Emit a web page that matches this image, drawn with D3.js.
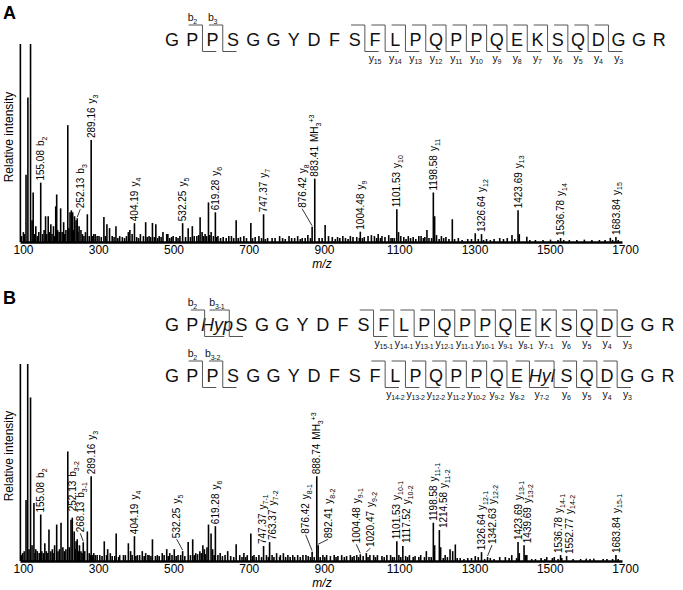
<!DOCTYPE html>
<html lang="en">
<head>
<meta charset="UTF-8">
<title>MS/MS spectra</title>
<script src="https://cdn.jsdelivr.net/npm/d3@7"></script>
<style>
  body { margin: 0; background: #fff; }
  svg { display: block; font-family: "Liberation Sans", Arial, sans-serif; }
</style>
</head>
<body>
<div id="chart"></div>
<script>
// ---- data ----
const xTicks = [100, 300, 500, 700, 900, 1100, 1300, 1500, 1700];

// sequences (panel A, panel B first and second row)
const seqA  = ["G","P","P","S","G","G","Y","D","F","S","F","L","P","Q","P","P","Q","E","K","S","Q","D","G","G","R"];
const seqB1 = ["G","P","Hyp","S","G","G","Y","D","F","S","F","L","P","Q","P","P","Q","E","K","S","Q","D","G","G","R"];
const seqB2 = ["G","P","P","S","G","G","Y","D","F","S","F","L","P","Q","P","P","Q","E","Hyl","S","Q","D","G","G","R"];
const bIonsA  = ["2", "3"];
const bIonsB1 = ["2", "3-1"];
const bIonsB2 = ["2", "3-2"];
const yIonsA  = ["15","14","13","12","11","10","9","8","7","6","5","4","3"];
const yIonsB1 = ["15-1","14-1","13-1","12-1","11-1","10-1","9-1","8-1","7-1","6","5","4","3"];
const yIonsB2 = ["14-2","13-2","12-2","11-2","10-2","9-2","8-2","7-2","6","5","4","3"];

// labelled peaks: m/z text, ion, subscript, superscript
const labelsA = [
  ["155.08","b","2"],["252.13","b","3"],["289.16","y","3"],["404.19","y","4"],
  ["532.25","y","5"],["619.28","y","6"],["747.37","y","7"],["876.42","y","8"],
  ["883.41","MH","3","+3"],["1004.48","y","9"],["1101.53","y","10"],["1198.58","y","11"],
  ["1326.64","y","12"],["1423.69","y","13"],["1536.78","y","14"],["1683.84","y","15"]
];
const labelIntA = [30, 12, 51.5, 9.5, 9.5, 15, 14, 7.7, 32, 5.2, 16.5, 25, 4, 16, 2, 2.5];

const labelsB = [
  ["155.08","b","2"],["252.13","b","3-2"],["268.13","b","3-1"],["289.16","y","3"],
  ["404.19","y","4"],["532.25","y","5"],["619.28","y","6"],["747.37","y","7-1"],
  ["763.37","y","7-2"],["876.42","y","8-1"],["888.74","MH","3","+3"],["892.41","y","8-2"],
  ["1004.48","y","9-1"],["1020.47","y","9-2"],["1101.53","y","10-1"],["1117.52","y","10-2"],
  ["1198.58","y","11-1"],["1214.58","y","11-2"],["1326.64","y","12-1"],["1342.63","y","12-2"],
  ["1423.69","y","13-1"],["1439.69","y","13-2"],["1536.78","y","14-1"],["1552.77","y","14-2"],
  ["1683.84","y","15-1"]
];
const labelIntB = [23.6, 11, 9.5, 43, 12.6, 5, 17.7, 7.6, 9.6, 4.7, 43, 8, 3.4, 4, 10, 7.6, 19.4, 15.7, 4.5, 2, 9.6, 8, 3, 2.5, 3];

// other (unlabelled) peaks [m/z, relative intensity]
const peaksA = [[101,100],[116,34],[121,73],[128,100],[135,25],[132,11],[142,8],[168,13],[175,13],[182,9],[189,8],[195,18],[197.5,24],[208,17],[216,10],[227,59],[233,15],[236.5,16],[240,15],[245,13],[249,11],[257,8],[262,6],[279,14],[296,4],[300,4],[305,3],[323,12.6],[331,9],[338,7],[345,3],[355,8],[365,3],[372,2.5],[388,5],[392,6],[398,4],[420,4],[434,10],[443,3],[452,9.6],[461,9],[470,3],[480,5],[490,4],[493,4],[507,3],[515,2.5],[525,3],[547,7],[558,8],[570,3],[578.7,12.5],[584,5],[592,4],[600.9,20],[608,5],[626,3],[640,2.5],[655,3],[662,3],[674.5,11],[686,2.5],[695,3],[713.5,9.6],[725,2.5],[735,3],[758,2],[770,2],[790,3],[798,2],[815,3],[822,2],[838,3],[850,2],[865,3.5],[911,8.6],[920,3],[930,2.5],[944,2.5],[958,3],[965,2],[978,3],[985,2.5],[995,2.5],[1015,2.5],[1025,3],[1034,3.5],[1042,3],[1052,4],[1062,3],[1070,2.5],[1080,3.5],[1095,2],[1106,5],[1112,3],[1120,2.5],[1132,3],[1145,2.5],[1160,3],[1166,3],[1181.6,6],[1187,2],[1202,13],[1207,3.5],[1220,3],[1232,2.5],[1249,11.5],[1265,2],[1290,1.5],[1310,4.4],[1340,1.5],[1360,1.5],[1375,2],[1385,1.5],[1395,2],[1407.6,3.5],[1427,4],[1447,2.6],[1470,1],[1510,1.2],[1560,1],[1600,1.2],[1640,1],[1669,2.1],[1690,1]];
const floorA = [[104,3],[109,5],[112,4],[138,4],[146,3],[150,5],[160,4],[164,6],[171,4],[178,5],[185,4],[192,3],[200,6],[204,5],[212,5],[219,4],[222,6],[230,7],[243,6],[254,5],[266,4],[270,3],[274,5],[284,3],[292,3],[310,3],[316,2.5],[327,3],[350,2.5],[360,2],[378,2],[383,3],[410,2.5],[415,2],[428,3],[438,2.5],[447,2.5],[457,2.5],[466,2],[475,2.5],[498,2],[503,2.5],[520,2],[540,2.5],[553,2.5],[563,3],[575,3.5],[588,3],[596,3],[604,3.5],[614,3],[622,2.5],[633,2],[648,2],[668,2],[680,2],[702,2],[718,2],[742,2],[752,1.5],[778,2],[805,1.5],[830,2],[845,1.5],[858,2],[872,2],[895,2],[903,2],[938,1.5],[950,2],[972,1.5],[1002,2],[1010,2],[1048,2],[1058,2],[1086,2],[1090,2],[1126,1.5],[1138,2],[1152,1.5],[1172,2],[1176,2.5],[1194,2],[1214,1.5],[1226,2],[1240,1.5],[1255,1.5],[1275,1],[1300,1.5],[1318,1.5],[1332,1],[1350,1],[1415,1.5],[1455,1],[1490,1],[1530,1],[1545,1],[1580,1],[1620,1],[1655,1],[1675,1]];

const peaksB = [[101,100],[116,31],[120.5,100],[128,83],[137,29.5],[132,8],[142,6],[166,9],[177,16],[186,6],[192,8],[197.5,18.5],[209,19.4],[214,7],[227,55.6],[235.6,21],[239,22],[244,15],[249,10],[258,8],[262,5],[279,15],[284,4],[296,4],[305,3],[324,10],[333,6],[340,4],[355.6,14],[365,3],[375,3],[388,9],[394,5],[412,3],[425,5],[434,4],[443,3],[452,11],[465,3],[478,4],[490,6],[498,4],[510,6],[520,3],[547,9.6],[559,11],[567,4],[578,5],[586,8],[590,6],[597,7],[601,18.5],[607.8,14],[612,6],[626,3],[632,4],[645,3],[652,5],[674.5,8.5],[684,3],[695,4],[704,3],[713.5,14],[722,3],[735,3],[755,3],[770,3],[782,4],[792,3],[800,4],[812,3],[825,3],[838,3],[852,3],[860,3],[866,2.5],[905,3],[915,3],[925,2.5],[935,3],[945,2.5],[955,3],[968,2.5],[978,3],[988,2.5],[995,3],[1012,2.5],[1030,3],[1040,3],[1050,3],[1062,2.5],[1075,3],[1085,3],[1095,2],[1107,3],[1125,2.5],[1135,3],[1150,2.5],[1165,3],[1180,5],[1187,2],[1202,8],[1218,7],[1230,3],[1243,6],[1250,5],[1257,8.4],[1270,1.5],[1290,1.5],[1310,2.5],[1318,2],[1350,1.5],[1375,2],[1390,2],[1407,3],[1427,4],[1443,3],[1447,3],[1470,1],[1485,1.5],[1500,2],[1515,1.5],[1520,2],[1540,1.5],[1590,1],[1605,1.2],[1625,1.2],[1660,1],[1675,1]];
const floorB = [[104,3],[107,4],[111,5],[124,6],[140,4],[146,5],[151,4],[158,5],[162,4],[170,5],[174,4],[182,5],[188,4],[201,5],[205,6],[218,5],[222,6],[231,7],[247,6],[255,5],[265,4],[272,5],[287,3],[292,3],[300,3],[312,3],[318,2.5],[330,3],[345,2.5],[352,2.5],[362,2],[380,3],[398,3],[408,2.5],[418,3],[430,2.5],[440,3],[448,2.5],[460,2.5],[470,2.5],[483,3],[494,2.5],[504,3],[515,2.5],[527,3],[538,2.5],[553,3],[563,3],[572,3.5],[582,4],[593,3.5],[616,3],[638,2.5],[660,2.5],[668,2],[690,2],[700,2],[718,2.5],[728,2],[742,2],[760,2],[775,2],[790,2],[806,2],[818,2],[830,2],[845,2],[872,2],[882,2],[898,2],[910,2],[940,2],[962,2],[983,2],[1000,2],[1025,2],[1045,2],[1068,2],[1090,2],[1112,2],[1130,2],[1145,2],[1160,2],[1175,2],[1193,2],[1225,1.5],[1236,2],[1262,1.5],[1280,1],[1300,1.5],[1335,1],[1360,1],[1400,1.5],[1420,1.5],[1460,1],[1495,1],[1530,1],[1570,1],[1615,1],[1650,1],[1690,1]];

// label placement tweaks (px): shift, lift above the peak, leader line
const nudgeA = {
  "252.13": {dx: 3, lift: 10, leader: true},
  "876.42": {dx: -10, lift: 19, leader: true}
};
const nudgeB = {
  "252.13": {dx: -4.5, lift: 28},
  "268.13": {dx: -3, lift: 10, leader: true},
  "532.25": {dx: -6, lift: 13, leader: true},
  "747.37": {dx: -1.5},
  "763.37": {dx: 2.5},
  "876.42": {dx: -6.5, lift: 18, leader: true},
  "892.41": {dx: 10, lift: 7, leader: true},
  "1004.48": {dx: -4, lift: 11, leader: true},
  "1020.47": {dx: 4, lift: 6, leader: true},
  "1117.52": {dx: 4, lift: 3},
  "1214.58": {dx: 4},
  "1342.63": {dx: 4.5, lift: 13, leader: true},
  "1439.69": {dx: 3},
  "1536.78": {dx: -2},
  "1552.77": {dx: 2.5}
};

// ---- layout ----
const width = 683, height = 590;
const svg = d3.select("#chart").append("svg")
  .attr("width", width).attr("height", height)
  .attr("viewBox", [0, 0, width, height]);

const x = d3.scaleLinear().domain([100, 1700]).range([20, 622]);

const panels = [
  { letter: "A", letterY: 19, base: 242, top: 44,
    rows: [{cy: 40, seq: seqA, b: bIonsA, y: yIonsA}],
    peaks: peaksA, floor: floorA, labels: labelsA, labelInt: labelIntA, nudge: nudgeA },
  { letter: "B", letterY: 304, base: 561, top: 364,
    rows: [{cy: 325, seq: seqB1, b: bIonsB1, y: yIonsB1},
           {cy: 376, seq: seqB2, b: bIonsB2, y: yIonsB2}],
    peaks: peaksB, floor: floorB, labels: labelsB, labelInt: labelIntB, nudge: nudgeB }
];

// residue spacing in the sequence diagrams
const seqX0 = 172, stepW = 20.3, wideW = 29;

function ionText(text, ion, sub, big, small) {
  text.append("tspan").attr("font-size", big).text(ion);
  text.append("tspan").attr("font-size", small).attr("dy", big * 0.28).text(sub);
}

function drawRow(g, row) {
  const w = row.seq.map(r => r.length > 1 ? wideW : stepW);
  const pos = [];
  let cx = seqX0;
  row.seq.forEach((r, i) => { if (i > 0) cx += (w[i - 1] + w[i]) / 2; pos.push(cx); });

  g.append("g").selectAll("text").data(row.seq).join("text")
    .attr("x", (d, i) => pos[i]).attr("y", row.cy).attr("dy", "0.36em")
    .attr("text-anchor", "middle").attr("font-size", 18).attr("fill", "#111")
    .attr("font-style", d => d.length > 1 ? "italic" : null)
    .text(d => d);

  const top = row.cy - 15, bottom = row.cy + 11.5;
  const cuts = [];
  row.b.forEach(s => cuts.push({at: parseInt(s) - 1, kind: "b", sub: s}));
  row.y.forEach(s => cuts.push({at: row.seq.length - 1 - parseInt(s), kind: "y", sub: s}));
  const marks = [...new Set(cuts.map(c => c.at))];

  g.append("g").selectAll("path").data(marks).join("path")
    .attr("fill", "none").attr("stroke", "#555").attr("stroke-width", 1)
    .attr("d", at => {
      const m = (pos[at] + pos[at + 1]) / 2;
      return `M${m - 0.68 * w[at]},${top}H${m}V${bottom}H${m + 0.68 * w[at + 1]}`;
    });

  cuts.forEach(c => {
    const t = g.append("text").attr("text-anchor", "middle").attr("fill", "#111")
      .attr("letter-spacing", -0.2);
    if (c.kind === "b") t.attr("x", pos[c.at]).attr("y", top - 4);
    else t.attr("x", pos[c.at + 1]).attr("y", bottom + 10);
    ionText(t, c.kind, c.sub, 10.5, 7);
  });
}

panels.forEach(p => {
  const g = svg.append("g");
  const y = d3.scaleLinear().domain([0, 100]).range([p.base, p.top]);

  g.append("text").attr("x", 3).attr("y", p.letterY)
    .attr("font-size", 18).attr("font-weight", "bold").text(p.letter);

  p.rows.forEach(r => drawRow(g, r));

  // spectrum sticks
  const sticks = p.floor.concat(p.peaks, p.labels.map((l, i) => [+l[0], p.labelInt[i]]));
  g.append("g").attr("stroke", "#000").attr("stroke-width", 1.6)
    .selectAll("line").data(sticks).join("line")
    .attr("x1", d => x(d[0])).attr("x2", d => x(d[0]))
    .attr("y1", y(0)).attr("y2", d => y(d[1]));

  // x axis
  const ax = g.append("g").attr("transform", `translate(0,${p.base})`)
    .call(d3.axisBottom(x).tickValues(xTicks).tickFormat(d3.format("d"))
      .tickSize(0).tickSizeOuter(0).tickPadding(3));
  ax.select(".domain").attr("stroke", "#000").attr("stroke-width", 2.5);
  ax.selectAll("text").attr("font-size", 12).attr("dx", 3).attr("fill", "#000")
    .attr("font-family", "Liberation Sans, Arial, sans-serif");

  g.append("text").attr("x", 322).attr("y", p.base + 26)
    .attr("text-anchor", "middle").attr("font-size", 12).attr("font-style", "italic")
    .text("m/z");

  g.append("text")
    .attr("transform", `translate(13,${p.base - 105}) rotate(-90)`)
    .attr("text-anchor", "middle").attr("font-size", 12)
    .text("Relative intensity");

  // peak labels
  p.labels.forEach((l, i) => {
    const nd = p.nudge[l[0]] || {};
    const px = x(+l[0]), py = y(p.labelInt[i]);
    const lx = px + (nd.dx || 0), ly = py - (nd.lift !== undefined ? nd.lift : 2);
    if (nd.leader) {
      g.append("line").attr("x1", px).attr("y1", py - 1).attr("x2", lx).attr("y2", ly + 1)
        .attr("stroke", "#000").attr("stroke-width", 0.8);
    }
    const t = g.append("text")
      .attr("transform", `translate(${lx},${ly}) rotate(-90)`)
      .attr("dy", "0.36em").attr("font-size", 10).attr("fill", "#000");
    t.append("tspan").text(l[0]);
    t.append("tspan").attr("dx", 4).text(l[1]);
    t.append("tspan").attr("font-size", 7).attr("dy", 2.8).text(l[2]);
    if (l[3]) t.append("tspan").attr("font-size", 7).attr("dy", -7).text(l[3]);
  });
});
</script>
</body>
</html>
